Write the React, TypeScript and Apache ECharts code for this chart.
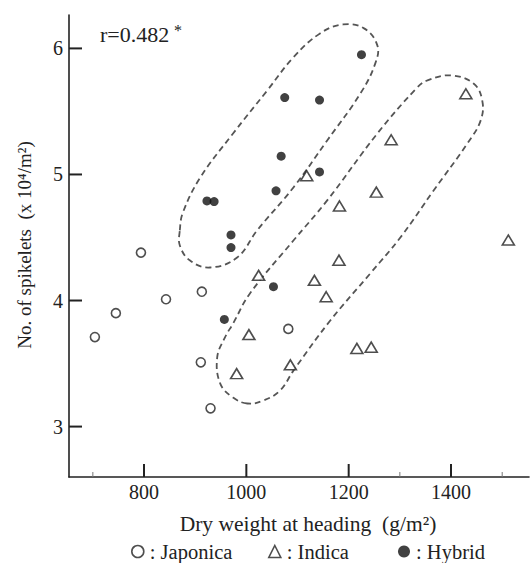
import React, { useEffect, useRef } from 'react';
import * as echarts from 'echarts';

// [dry weight at heading (g/m2), no. of spikelets (x10^4/m2)]
const japonica: number[][] = [
  [704, 3.71], [745, 3.9], [794, 4.38], [843, 4.01], [913, 4.07],
  [911, 3.51], [930, 3.145], [1082, 3.775],
];
const indica: number[][] = [
  [1429, 5.64], [1512, 4.48], [1118, 4.99], [1182, 4.75], [1283, 5.275],
  [1254, 4.86], [1181, 4.32], [1024, 4.2], [1133, 4.16], [1156, 4.03],
  [1005, 3.73], [1216, 3.62], [1244, 3.63], [1086, 3.49], [981, 3.42],
];
const hybrid: number[][] = [
  [1225, 5.95], [1075, 5.61], [1143, 5.59], [1068, 5.145], [1143, 5.02],
  [1058, 4.87], [923, 4.79], [937, 4.785], [970, 4.52], [970, 4.42],
  [1053, 4.11], [957, 3.85],
];
const xMajorTicks = [800, 1000, 1200, 1400];
const xMinorTicks = [700, 1300, 1500];
const yTicks = [3, 4, 5, 6];

// dashed group outlines (data coordinates)
const hybridLoop: number[][] = [
  [870, 4.556], [876, 4.698], [910, 4.976], [974, 5.325], [1041, 5.667],
  [1092, 5.929], [1144, 6.119], [1189, 6.19], [1230, 6.159], [1256, 6.024],
  [1252, 5.881], [1223, 5.643], [1158, 5.27], [1092, 4.897], [1021, 4.556],
  [982, 4.341], [929, 4.262], [890, 4.317], [870, 4.437],
];
const indicaLoop: number[][] = [
  [1002, 3.183], [974, 3.23], [949, 3.341], [943, 3.548], [958, 3.706],
  [974, 3.817], [1007, 4.056], [1092, 4.476], [1158, 4.794], [1256, 5.325],
  [1334, 5.69], [1354, 5.746], [1399, 5.786], [1444, 5.722], [1461, 5.587],
  [1458, 5.429], [1432, 5.246], [1366, 4.873], [1301, 4.5], [1242, 4.214],
  [1164, 3.841], [1092, 3.444], [1066, 3.286], [1033, 3.206],
];

const FONT = '"Liberation Serif", "DejaVu Serif", serif';
const INK = '#222';

export default function App() {
  const ref = useRef<HTMLDivElement>(null);
  useEffect(() => {
    if (!ref.current) return;
    const chart = echarts.init(ref.current, null, { renderer: 'svg' });
    const xMin = 653.4;
    const xMax = 1552.4;
    const yMin = 2.6;
    const yMax = 6.265;
    const openStyle = { color: '#fff', borderColor: INK, borderWidth: 1.6 };
    const legendBase = {
      orient: 'horizontal',
      top: 541,
      padding: 0,
      itemWidth: 12,
      itemHeight: 12,
      formatter: ': {name}',
      textStyle: { fontFamily: FONT, fontSize: 20.5, color: INK, padding: [0, 0, 0, 1] },
      selectedMode: false,
    };
    const tickSeries = (data: number[][], size: number[], offset: number[], color: string) => ({
      type: 'scatter',
      data,
      symbol: 'rect',
      symbolSize: size,
      symbolOffset: offset,
      itemStyle: { color, opacity: 1 },
      silent: true,
      clip: false,
      emphasis: { disabled: true },
      z: 4,
    });
    chart.setOption({
      animation: false,
      backgroundColor: '#fff',
      grid: { left: 69, right: 2, top: 15, bottom: 86, containLabel: false, outerBoundsMode: 'none' },
      xAxis: {
        type: 'value',
        min: xMin,
        max: xMax,
        position: 'bottom',
        axisLine: { show: true, lineStyle: { color: INK, width: 1.6 } },
        axisTick: { show: false },
        axisLabel: {
          show: true,
          customValues: xMajorTicks,
          margin: 5,
          fontFamily: FONT,
          fontSize: 20,
          color: INK,
          formatter: (v: number) => String(v),
        },
        splitLine: { show: false },
      },
      yAxis: {
        type: 'value',
        min: yMin,
        max: yMax,
        position: 'left',
        axisLine: { show: true, lineStyle: { color: INK, width: 1.6 } },
        axisTick: { show: false },
        axisLabel: { show: true, customValues: yTicks, margin: 6, fontFamily: FONT, fontSize: 20, color: INK },
        splitLine: { show: false },
      },
      legend: [
        { ...legendBase, left: 131, data: [{ name: 'Japonica', icon: 'circle', itemStyle: openStyle }] },
        { ...legendBase, left: 268, data: [{ name: 'Indica', icon: 'triangle', itemStyle: openStyle }] },
        { ...legendBase, left: 398, data: [{ name: 'Hybrid', icon: 'circle', itemStyle: { color: '#111' } }] },
      ],
      series: [
        {
          name: 'Japonica',
          type: 'scatter',
          symbol: 'circle',
          symbolSize: 9,
          itemStyle: openStyle,
          data: japonica,
          z: 3,
        },
        {
          name: 'Indica',
          type: 'scatter',
          symbol: 'triangle',
          symbolSize: [12, 10],
          itemStyle: openStyle,
          data: indica,
          z: 3,
        },
        {
          name: 'Hybrid',
          type: 'scatter',
          symbol: 'circle',
          symbolSize: 9,
          itemStyle: { color: '#111' },
          data: hybrid,
          z: 3,
        },
        tickSeries(xMajorTicks.map((v) => [v, yMin]), [2, 13], [0, -6.5], INK),
        tickSeries(xMinorTicks.map((v) => [v, yMin]), [1, 5], [0, -2.5], '#777'),
        tickSeries(yTicks.map((v) => [xMin, v]), [13, 2], [6.5, 0], INK),
      ],
    });

    const px = (p: number[]) => chart.convertToPixel({ xAxisIndex: 0, yAxisIndex: 0 }, p) as number[];
    const toPx = (pts: number[][]) => pts.map(px);
    const loopStyle = { fill: 'none', stroke: '#555', lineWidth: 1.8, lineDash: [6, 4] };
    chart.setOption({
      graphic: [
        { type: 'polygon', shape: { points: toPx(hybridLoop), smooth: 0.4 }, style: loopStyle, z: 1 },
        { type: 'polygon', shape: { points: toPx(indicaLoop), smooth: 0.4 }, style: loopStyle, z: 1 },
        {
          type: 'text',
          x: 100,
          y: 34,
          z: 50,
          style: { text: 'r=0.482', fontFamily: FONT, fontSize: 22, fill: INK, verticalAlign: 'middle' },
        },
        {
          type: 'text',
          x: 174,
          y: 30,
          z: 50,
          style: { text: '*', fontFamily: FONT, fontSize: 16, fill: INK, verticalAlign: 'middle' },
        },
        {
          type: 'text',
          x: 308,
          y: 524,
          z: 50,
          style: {
            text: 'Dry weight at heading  (g/m²)',
            fontFamily: FONT,
            fontSize: 21.5,
            fill: INK,
            align: 'center',
            verticalAlign: 'middle',
          },
        },
        {
          type: 'text',
          x: 24,
          y: 245,
          z: 50,
          rotation: Math.PI / 2,
          style: {
            text: 'No. of spikelets  (x 10⁴/m²)',
            fontFamily: FONT,
            fontSize: 19,
            fill: INK,
            align: 'center',
            verticalAlign: 'middle',
          },
        },
      ],
    });
    return () => chart.dispose();
  }, []);
  return <div ref={ref} style={{ position: 'fixed', left: 0, top: 0, width: 531, height: 563 }} />;
}
